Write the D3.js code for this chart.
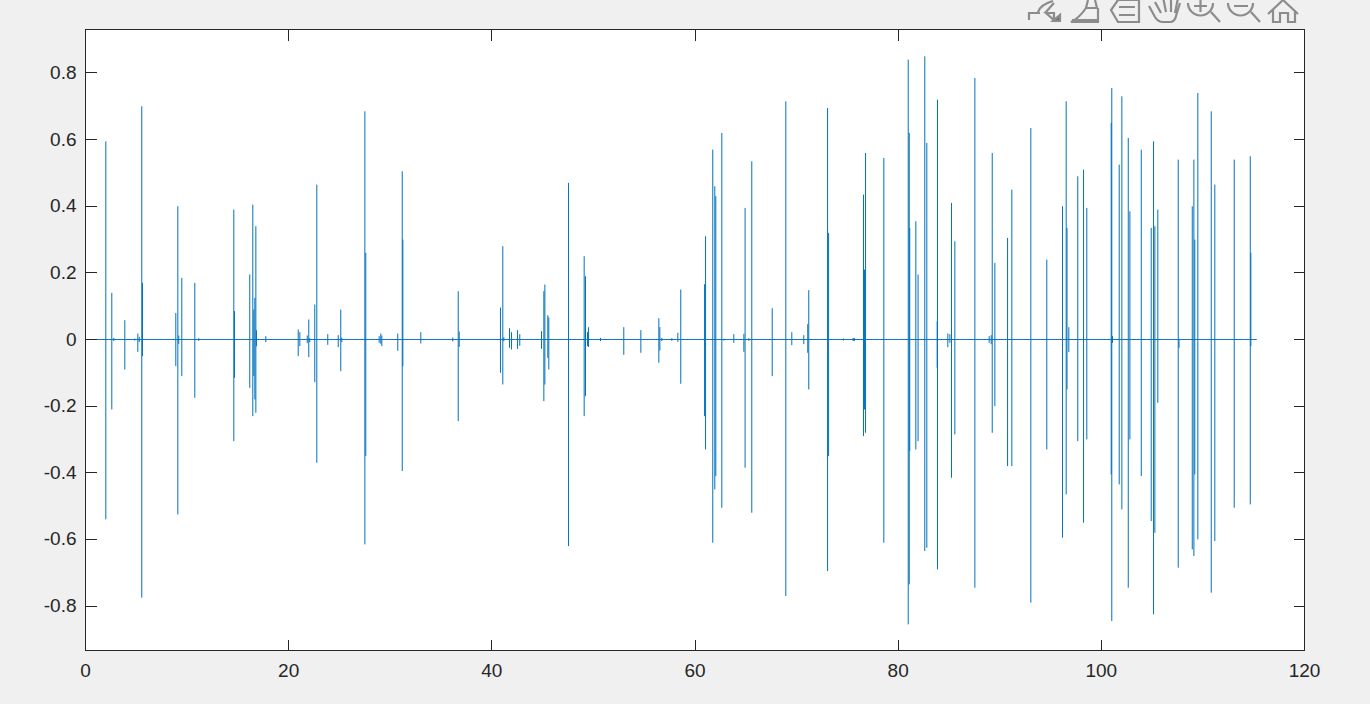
<!DOCTYPE html>
<html>
<head>
<meta charset="utf-8">
<script src="https://cdn.jsdelivr.net/npm/d3@7"></script>
<style>
	html, body { margin: 0; padding: 0; background: #f0f0f0; overflow: hidden; }
	text { font-family: "Liberation Sans", Arial, sans-serif; font-size: 19px; fill: #262626; }
</style>
</head>
<body>
<div id="stage"></div>
<script>
// spike positions (seconds) with their upper and lower peaks
var spikeX = [
	2.00, 2.59, 2.79, 3.87, 4.85, 5.15, 5.29, 5.54, 5.61, 8.89, 9.09, 9.18, 9.48, 10.76, 11.15,
	14.60, 14.67, 16.17, 16.47, 16.57, 16.67, 16.77, 16.83, 17.75, 20.94, 21.10, 21.83, 21.98, 22.08,
	22.57, 22.77, 23.85, 24.88, 25.13, 25.23, 27.50, 27.59, 28.91, 29.07, 29.17, 30.74, 31.18, 31.24,
	33.01, 36.16, 36.69, 36.79,
	40.85, 41.08, 41.18, 41.74, 41.94, 42.53, 42.75, 44.89, 45.12, 45.22, 45.51, 45.61, 47.55, 49.09,
	49.22, 49.42, 49.52, 50.70, 52.99, 54.67, 56.44, 56.54, 56.73, 57.72, 58.31, 58.60, 60.94, 61.04,
	61.75, 61.95, 62.05, 62.64, 62.84, 63.82, 64.81, 64.93, 65.30, 65.59, 67.60, 68.94, 69.53, 70.71,
	71.10, 71.20, 73.05, 73.15, 74.62, 75.55, 75.63, 75.71, 76.59, 76.69, 76.79,
	78.59, 80.99, 81.09, 81.14, 81.74, 81.96, 82.62, 82.82, 83.84, 83.87, 84.89, 85.09, 85.25, 85.58, 87.55,
	88.96, 89.16, 89.26, 89.52, 90.77, 91.19, 93.06, 94.63, 96.18, 96.54, 96.62, 96.80, 97.68, 98.25,
	98.57, 100.97, 101.03, 101.10, 101.76, 102.02, 102.65, 102.81, 103.93, 104.91, 105.14, 105.27,
	105.56, 107.57, 107.65, 108.95, 109.11, 109.20, 109.50, 110.82, 111.17, 113.08, 114.66, 114.72
];
var spikeTop = [
	0.595, 0.14, 0.005, 0.058, 0.003, 0.018, 0.008, 0.70, 0.17, 0.08, 0.40, 0.012, 0.185, 0.17, 0.004,
	0.39, 0.085, 0.195, 0.405, 0.09, 0.125, 0.34, 0.028, 0.01, 0.03, 0.022, 0.012, 0.06, 0.004,
	0.105, 0.465, 0.016, 0.013, 0.09, 0.006, 0.685, 0.26, 0.01, 0.018, 0.012, 0.018, 0.505, 0.30,
	0.022, 0.006, 0.145, 0.024,
	0.096, 0.28, 0.007, 0.034, 0.022, 0.028, 0.016, 0.025, 0.145, 0.165, 0.073, 0.066, 0.47, 0.25,
	0.19, 0.022, 0.037, 0.005, 0.037, 0.028, 0.064, 0.037, 0.005, 0.004, 0.02, 0.15, 0.166, 0.31,
	0.57, 0.46, 0.43, 0.62, 0.002, 0.016, 0.017, 0.395, 0.004, 0.535, 0.094, 0.715, 0.022, 0.013,
	0.046, 0.148, 0.695, 0.32, 0.003, 0.004, 0.004, 0.004, 0.435, 0.21, 0.56,
	0.545, 0.84, 0.62, 0.335, 0.355, 0.195, 0.85, 0.59, 0.055, 0.72, 0.018, 0.016, 0.41, 0.295, 0.785,
	0.01, 0.013, 0.56, 0.23, 0.305, 0.45, 0.635, 0.24, 0.40, 0.715, 0.335, 0.037, 0.49, 0.51,
	0.395, 0.65, 0.755, 0.01, 0.525, 0.73, 0.605, 0.385, 0.57, 0.335, 0.595, 0.34,
	0.39, 0.54, 0.002, 0.40, 0.54, 0.30, 0.74, 0.685, 0.465, 0.54, 0.55, 0.26
];
var spikeBottom = [
	-0.54, -0.21, -0.005, -0.09, -0.003, -0.037, -0.008, -0.775, -0.05, -0.08, -0.525, -0.013, -0.11, -0.175, -0.004,
	-0.305, -0.115, -0.145, -0.23, -0.11, -0.18, -0.22, -0.02, -0.008, -0.05, -0.02, -0.011, -0.053, -0.008,
	-0.128, -0.37, -0.016, -0.023, -0.095, -0.008, -0.615, -0.35, -0.01, -0.013, -0.02, -0.034, -0.395, -0.08,
	-0.012, -0.006, -0.245, -0.022,
	-0.10, -0.135, -0.005, -0.025, -0.03, -0.028, -0.019, -0.028, -0.185, -0.135, -0.055, -0.09, -0.62, -0.23,
	-0.17, -0.02, -0.022, -0.005, -0.046, -0.04, -0.07, -0.033, -0.005, -0.004, -0.007, -0.133, -0.23, -0.33,
	-0.61, -0.45, -0.41, -0.505, -0.003, -0.01, -0.037, -0.385, -0.004, -0.52, -0.11, -0.77, -0.017, -0.014,
	-0.04, -0.15, -0.695, -0.35, -0.003, -0.004, -0.004, -0.004, -0.29, -0.21, -0.28,
	-0.61, -0.855, -0.735, -0.335, -0.33, -0.305, -0.635, -0.625, -0.085, -0.69, -0.023, -0.01, -0.415, -0.285, -0.745,
	-0.01, -0.014, -0.28, -0.20, -0.38, -0.38, -0.79, -0.33, -0.595, -0.465, -0.15, -0.038, -0.305, -0.55,
	-0.30, -0.405, -0.845, -0.01, -0.435, -0.51, -0.745, -0.30, -0.41, -0.545, -0.825, -0.58,
	-0.19, -0.685, -0.025, -0.63, -0.65, -0.405, -0.60, -0.76, -0.605, -0.505, -0.495, -0.02
];
var baselineEnd = 115.3;
var xTicks = [0, 20, 40, 60, 80, 100, 120];
var yTicks = [-0.8, -0.6, -0.4, -0.2, 0, 0.2, 0.4, 0.6, 0.8];

var width = 1370, height = 704;
var left = 85.5, right = 1304.5, top_ = 29.5, bottom = 650.5;
var tickLen = 11, ink = '#262626', lineColor = '#0072bd';

var svg = d3.select('#stage').append('svg')
	.attr('width', width)
	.attr('height', height)
	.style('display', 'block');

var x = d3.scaleLinear().domain([0, 120]).range([left, right]);
var y = d3.scaleLinear().domain([-0.932, 0.932]).range([bottom - 0.5, top_ - 0.5]);

svg.append('rect')
	.attr('x', left)
	.attr('y', top_)
	.attr('width', right - left)
	.attr('height', bottom - top_)
	.attr('fill', '#fff');

// the signal itself: baseline plus one thin vertical per spike
var plot = svg.append('g');

plot.append('line')
	.attr('x1', x(0))
	.attr('x2', x(baselineEnd))
	.attr('y1', y(0))
	.attr('y2', y(0))
	.attr('stroke', '#1c75b6')
	.attr('stroke-width', 1);

plot.selectAll('line.spike')
	.data(spikeX)
	.enter()
	.append('line')
	.attr('class', 'spike')
	.attr('x1', function(d) { return x(d); })
	.attr('x2', function(d) { return x(d); })
	.attr('y1', function(d, i) { return y(spikeTop[i]); })
	.attr('y2', function(d, i) { return y(spikeBottom[i]); })
	.attr('stroke', lineColor)
	.attr('stroke-width', 1);

// axes, MATLAB style: box with inward ticks on all four sides
var fmt = function(d) { return d === 0 ? '0' : String(d); };

var axisBottom = svg.append('g')
	.attr('transform', 'translate(0,' + bottom + ')')
	.call(d3.axisBottom(x).offset(0).tickValues(xTicks).tickSize(-tickLen).tickPadding(13).tickFormat(fmt));
var axisTop = svg.append('g')
	.attr('transform', 'translate(0,' + top_ + ')')
	.call(d3.axisTop(x).offset(0).tickValues(xTicks).tickSize(-tickLen).tickFormat(''));
var axisLeft = svg.append('g')
	.attr('transform', 'translate(' + left + ',0)')
	.call(d3.axisLeft(y).offset(0).tickValues(yTicks).tickSize(-tickLen).tickPadding(9).tickFormat(fmt));
var axisRight = svg.append('g')
	.attr('transform', 'translate(' + right + ',0)')
	.call(d3.axisRight(y).offset(0).tickValues(yTicks).tickSize(-tickLen).tickFormat(''));

[axisBottom, axisTop, axisLeft, axisRight].forEach(function(a) {
	a.attr('font-family', null).attr('font-size', null);
	a.selectAll('.domain').remove();
	a.selectAll('line')
		.attr('stroke', ink)
		.attr('stroke-width', 1)
		.attr('shape-rendering', 'crispEdges');
});

svg.append('rect')
	.attr('x', left)
	.attr('y', top_)
	.attr('width', right - left)
	.attr('height', bottom - top_)
	.attr('fill', 'none')
	.attr('stroke', ink)
	.attr('stroke-width', 1);

// figure toolbar in the top right corner, clipped by the window edge
var toolbar = [
	{d: 'M1029 20 V13 H1040 M1046 13 H1054 V20 Z M1038 12 C1040 6 1046 3 1053 1 M1045 13 L1054 3', fill: 'none'},
	{d: 'M1088 0 L1086 8 H1097 L1095 0 M1086 8 C1082 14 1077 19 1071 22 H1098 V8 M1072 20 H1098', fill: 'none'},
	{d: 'M1118 0 H1139 V22 H1118 L1111 10 Z M1119 7 H1135 M1119 15 H1135', fill: 'none'},
	{d: 'M1149 6 L1155 17 Q1158 22 1163 22 H1171 Q1175 21 1176 16 L1180 3 M1155 2 L1161 13 M1163 -3 L1166 12 M1171 -3 L1171 12 M1178 -2 L1175 13', fill: 'none'},
	{d: 'M1188 3 A 12.5 12.5 0 1 0 1213 3 M1211 12 L1220 22 M1200.5 0 V12 M1194 6 H1207', fill: 'none'},
	{d: 'M1228 3 A 12.5 12.5 0 1 0 1253 3 M1251 12 L1260 22 M1234 6 H1248', fill: 'none'},
	{d: 'M1268 14 L1283 0 L1298 14 M1273 10 V22 H1280 V13 H1288 V22 H1295 V10', fill: 'none'},
	{d: 'M1053 21 L1060 21 L1060 15 Z', fill: '#6e6e6e'}
];
svg.append('g')
	.selectAll('path')
	.data(toolbar)
	.enter()
	.append('path')
	.attr('d', function(d) { return d.d; })
	.attr('fill', function(d) { return d.fill; })
	.attr('stroke', '#8c8c8c')
	.attr('stroke-width', 2.2);
</script>
</body>
</html>
